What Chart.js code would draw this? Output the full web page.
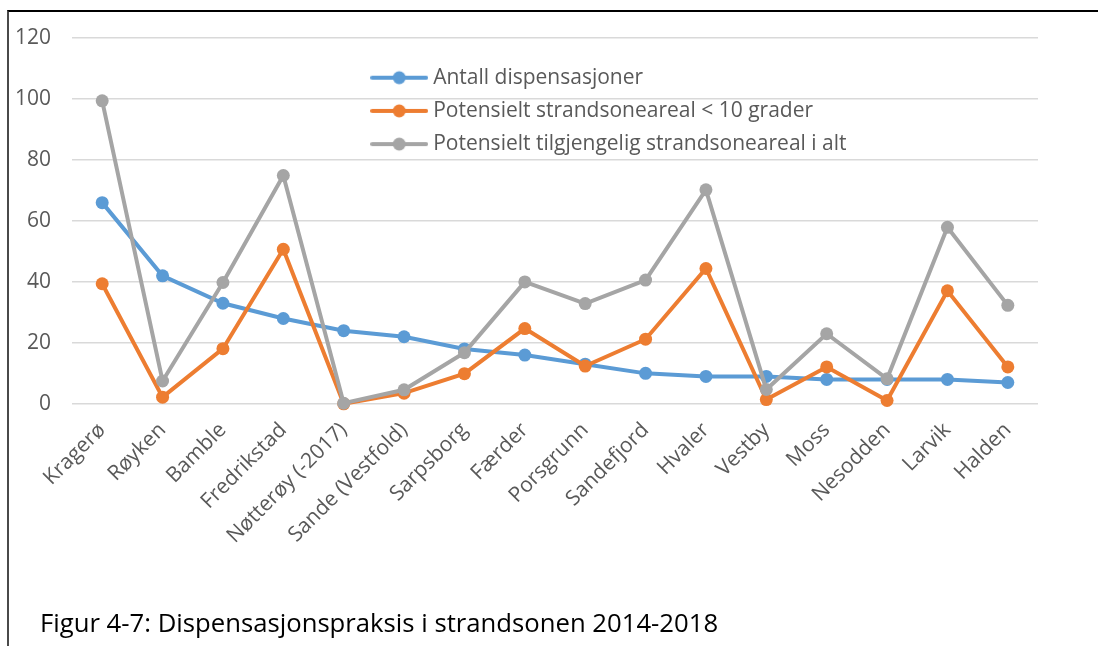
<!DOCTYPE html>
<html><head><meta charset="utf-8">
<script src="https://cdn.jsdelivr.net/npm/chart.js@4.4.1/dist/chart.umd.min.js"></script>
<style>
html,body{margin:0;padding:0;background:#fff;width:1098px;height:646px;overflow:hidden;}
#frame{position:absolute;left:7px;top:10px;width:1200px;height:700px;border-left:2px solid #4a4a4a;border-top:2px solid #000;}
#wrap{position:absolute;left:0;top:0;width:1098px;height:646px;}
#caption{position:absolute;left:40px;top:606px;font-family:"Open Sans";font-size:25.7px;line-height:34px;color:#000;white-space:nowrap;}
</style></head><body>
<div id="frame"></div>
<div id="wrap"><canvas id="c" width="1098" height="646"></canvas></div>
<div id="caption">Figur 4-7: Dispensasjonspraksis i strandsonen 2014-2018</div>
<script>
const categories = ["Kragerø","Røyken","Bamble","Fredrikstad","Nøtterøy (-2017)","Sande (Vestfold)","Sarpsborg","Færder","Porsgrunn","Sandefjord","Hvaler","Vestby","Moss","Nesodden","Larvik","Halden"];
const seriesNames = ["Antall dispensasjoner","Potensielt strandsoneareal < 10 grader","Potensielt tilgjengelig strandsoneareal i alt"];
const antallDispensasjoner = [66,42,33,28,24,22,18,16,13,10,9,9,8,8,8,7];
const strandsonearealUnder10 = [39.4,2.2,18.1,50.7,0,3.5,9.9,24.7,12.4,21.2,44.4,1.4,12.1,1.1,37.1,12.1];
const tilgjengeligIAlt = [99.4,7.5,39.8,74.9,0.2,4.6,16.8,40.0,32.9,40.6,70.2,4.7,23.0,8.2,57.9,32.3];
const yTickValues = [0,20,40,60,80,100,120];
const colors = ["#5b9bd5","#ed7d31","#a5a5a5"];

function legendIcon(color){
  const cv = document.createElement('canvas');
  cv.width = 58; cv.height = 16;
  const g = cv.getContext('2d');
  g.strokeStyle = color; g.lineWidth = 4; g.lineCap = 'round';
  g.beginPath(); g.moveTo(2,8); g.lineTo(56,8); g.stroke();
  g.fillStyle = color; g.beginPath(); g.arc(29,8,6.5,0,Math.PI*2); g.fill();
  return cv;
}
const icons = colors.map(legendIcon);

const legendPlace = {
  id:'legendPlace',
  afterLayout(chart){
    const lg = chart.legend;
    if(!lg) return;
    const w = lg.width, h = lg.height;
    lg.left = 363.5; lg.right = lg.left + w;
    lg.top = 55; lg.bottom = lg.top + h;
  }
};

const ds = [antallDispensasjoner, strandsonearealUnder10, tilgjengeligIAlt].map((d,i)=>({
  label: seriesNames[i],
  data: d,
  borderColor: colors[i],
  backgroundColor: colors[i],
  pointBackgroundColor: colors[i],
  pointBorderWidth: 0,
  pointRadius: 6.5,
  borderWidth: 4,
  tension: 0,
  clip: false,
  order: 2 - i
}));

new Chart(document.getElementById('c'), {
  type:'line',
  data:{labels:categories, datasets:ds},
  options:{
    responsive:false,
    devicePixelRatio:1,
    animation:false,
    layout:{padding:{left:17,top:38,right:60,bottom:91.5}},
    plugins:{
      tooltip:{enabled:false},
      legend:{
        position:'chartArea',
        align:'start',
        labels:{
          usePointStyle:true,
          pointStyleWidth:47,
          padding:12.2,
          color:'#595959',
          font:{family:'Open Sans',size:21},
          sort:(a,b)=>a.datasetIndex-b.datasetIndex,
          generateLabels:(chart)=>{
            const items = Chart.defaults.plugins.legend.labels.generateLabels(chart);
            items.forEach(it=>{ it.pointStyle = icons[it.datasetIndex]; });
            return items;
          }
        }
      }
    },
    scales:{
      x:{
        offset:true,
        afterFit:(s)=>{ s.paddingLeft = 0; s.paddingRight = 0; },
        grid:{display:false},
        border:{display:false},
        ticks:{color:'#595959',font:{family:'Open Sans',size:21},minRotation:45,maxRotation:45,padding:6,autoSkip:false}
      },
      y:{
        min:0,max:120,
        afterBuildTicks:(s)=>{ s.ticks = yTickValues.map(v=>({value:v})); },
        afterFit:(s)=>{ s.width = 55; },
        grid:{color:'#d9d9d9',lineWidth:1.5,drawTicks:false},
        border:{display:false},
        ticks:{color:'#595959',font:{family:'Open Sans',size:21},padding:21}
      }
    }
  },
  plugins:[legendPlace]
});
</script>
</body></html>
